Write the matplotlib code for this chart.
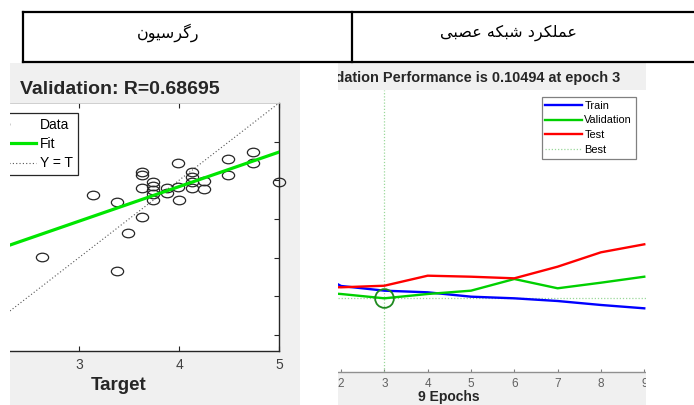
import matplotlib
matplotlib.use("Agg")
import matplotlib.pyplot as plt
import numpy as np
from matplotlib.path import Path
from matplotlib.patches import Rectangle
from matplotlib.lines import Line2D
from matplotlib.transforms import Bbox, TransformedBbox

W, H = 694, 405

# ---------------- data ----------------
# Persian headers, shaped presentation forms in visual (left-to-right) order
header_left = "\uFEE5\uFEEE\uFBFF\uFEB3\uFEAE\uFB94\uFEAD"          # رگرسیون
header_right = ("\uFBFD\uFE92\uFEBC\uFECB \uFEEA\uFB91\uFE92\uFEB7 "
                "\uFEA9\uFEAE\uFB91\uFEE0\uFEE4\uFECB")             # عملکرد شبکه عصبی

reg_title = "Validation: R=0.68695"
reg_xlabel = "Target"
reg_xticks = [3, 4, 5]
reg_yticks = [2.0, 2.5, 3.0, 3.5, 4.0, 4.5]
reg_target = [3.14, 3.38, 3.63, 3.63, 3.63, 3.74, 3.74, 3.74, 3.74, 3.74,
              3.88, 3.88, 3.99, 3.99, 4.00, 4.13, 4.13, 4.13, 4.13, 4.25,
              4.25, 4.49, 4.49, 4.74, 4.74, 5.00, 3.63, 3.49, 2.63, 3.38]
reg_output = [3.81, 3.72, 4.11, 4.07, 3.90, 3.98, 3.93, 3.87, 3.82, 3.75,
              3.90, 3.84, 4.22, 3.91, 3.75, 4.11, 4.04, 3.98, 3.90, 3.99,
              3.89, 4.28, 4.07, 4.37, 4.22, 3.98, 3.53, 3.32, 3.01, 2.83]
fit_slope = 0.447
fit_intercept = 2.13
reg_legend = ["Data", "Fit", "Y = T"]

perf_title = "Best Validation Performance is 0.10494 at epoch 3"
perf_xlabel = "9 Epochs"
epochs = [1, 2, 3, 4, 5, 6, 7, 8, 9]
train_perf = [0.25, 0.1419, 0.1265, 0.1215, 0.1092, 0.1049, 0.0982, 0.0891, 0.0821]
val_perf = [0.125, 0.1166, 0.10494, 0.1166, 0.1265, 0.1683, 0.1341, 0.1538, 0.1781]
test_perf = [0.14, 0.1374, 0.1428, 0.1826, 0.1781, 0.1712, 0.2277, 0.3238, 0.3938]
best_epoch = 3
best_perf = 0.10494
perf_legend = ["Train", "Validation", "Test", "Best"]
perf_xticks = [2, 3, 4, 5, 6, 7, 8, 9]


def box(x0, y0, x1, y1):
    return [x0 / W, 1 - y1 / H, (x1 - x0) / W, (y1 - y0) / H]


def fxy(x, y):
    return x / W, 1 - y / H


fig = plt.figure(figsize=(W / 100, H / 100), dpi=100)
fig.patch.set_facecolor("white")
SANS = ["Liberation Sans", "DejaVu Sans"]
GRAYBG = "#f0f0f0"
DARK = "#262626"

# gray image backgrounds
for x0, x1 in [(10, 300), (338, 646)]:
    fig.add_artist(Rectangle((x0 / W, 0), (x1 - x0) / W, 1 - 63 / H,
                             transform=fig.transFigure, facecolor=GRAYBG,
                             edgecolor="none", zorder=-1))

# ---------------- regression plot ----------------
axL = fig.add_axes(box(10, 103, 279, 351))
axL.set_facecolor("white")
axL.set_xlim(2.31, 5.0)
axL.set_ylim(5 - 248 / 77.3, 5.0)

ell = Path.unit_circle()
ell = Path(ell.vertices * np.array([1.0, 0.7]), ell.codes)
axL.plot(reg_target, reg_output, linestyle="none", marker=ell, ms=8.8,
         mfc="none", mec=DARK, mew=0.9, clip_on=False, zorder=3,
         label=reg_legend[0])
xs = np.array(axL.get_xlim())
axL.plot(xs, fit_slope * xs + fit_intercept, color="#00e600", lw=2.3,
         zorder=4, label=reg_legend[1])
axL.plot(xs, xs, linestyle=(0, (1, 2)), color="#555555", lw=0.8, zorder=2,
         label=reg_legend[2])

axL.set_xticks(reg_xticks)
axL.set_xticklabels([str(v) for v in reg_xticks])
axL.set_yticks(reg_yticks)
axL.tick_params(axis="both", direction="in", length=3.5, width=0.8,
                color=DARK, left=False, right=True, top=True, bottom=True,
                labelleft=False, labelright=False)
axL.tick_params(axis="x", labelsize=10, labelcolor="#404040", pad=5)
for lab in axL.get_xticklabels():
    lab.set_family(SANS)
axL.spines["left"].set_visible(False)
axL.spines["top"].set_color("#c8c8c8")
axL.spines["top"].set_linewidth(0.6)
axL.spines["bottom"].set_color(DARK)
axL.spines["right"].set_color(DARK)
axL.spines["bottom"].set_linewidth(1.0)
axL.spines["right"].set_linewidth(1.0)

legL = axL.legend(loc="upper right", bbox_to_anchor=fxy(78, 113),
                  bbox_transform=fig.transFigure, prop={"family": SANS, "size": 10},
                  handlelength=4.8, handletextpad=0.3, labelspacing=0.38,
                  borderpad=0.35, borderaxespad=0, numpoints=1, fancybox=False,
                  framealpha=1, edgecolor=DARK)
legL.get_frame().set_linewidth(0.9)

fig.text(*fxy(120, 89), reg_title, ha="center", va="center",
         fontsize=14, fontweight="bold", family=SANS, color=DARK)
fig.text(*fxy(119, 386), reg_xlabel, ha="center", va="center",
         fontsize=13.5, fontweight="bold", family=SANS, color=DARK)

# ---------------- performance plot ----------------
axR = fig.add_axes(box(338, 90, 646, 372))
axR.set_facecolor("white")
axR.set_yscale("log")
axR.set_xlim(1.93, 9.04)
D = 94.0
axR.set_ylim(best_perf * 10 ** (-(372 - 298.3) / D),
             best_perf * 10 ** ((298.3 - 90) / D))
axR.plot(epochs, train_perf, color="#0000ff", lw=1.7, label=perf_legend[0], zorder=3)
axR.plot(epochs, val_perf, color="#00d000", lw=1.7, label=perf_legend[1], zorder=3)
axR.plot(epochs, test_perf, color="#ff0000", lw=1.7, label=perf_legend[2], zorder=3)
axR.axvline(best_epoch, linestyle=(0, (1, 1.5)), color="#9ad89a", lw=0.9,
            label=perf_legend[3], zorder=2)
axR.axhline(best_perf, linestyle=(0, (1, 1.5)), color="#9ad89a", lw=0.9, zorder=2)
axR.plot([best_epoch], [best_perf], marker="o", ms=13.5, mfc="none",
         mec="#1f8a1f", mew=1.3, linestyle="none", zorder=4)

axR.set_xticks(perf_xticks)
axR.set_xticklabels([str(v) for v in perf_xticks])
axR.yaxis.set_major_locator(plt.NullLocator())
axR.yaxis.set_minor_locator(plt.NullLocator())
axR.tick_params(axis="x", direction="in", length=2.5, width=0.8,
                color="#808080", labelsize=8.5, labelcolor="#606060", pad=4)
for lab in axR.get_xticklabels():
    lab.set_family(SANS)
for s in ["left", "top", "right"]:
    axR.spines[s].set_visible(False)
axR.spines["bottom"].set_color("#909090")
axR.spines["bottom"].set_linewidth(1.0)

legR = axR.legend(loc="upper right", bbox_to_anchor=fxy(636, 97),
                  bbox_transform=fig.transFigure, prop={"family": SANS, "size": 7.9},
                  handlelength=3.3, handletextpad=0.25, labelspacing=0.42,
                  borderpad=0.35, borderaxespad=0, fancybox=False,
                  framealpha=1, edgecolor="#808080")
legR.get_frame().set_linewidth(0.9)
for ln in legR.get_lines():
    ln.set_linewidth(1.7)
legR.get_lines()[3].set_linewidth(0.9)

tR = fig.text(*fxy(620, 78), perf_title, ha="right", va="center",
              fontsize=10.45, fontweight="bold", family=SANS, color=DARK)
tR.set_clip_box(TransformedBbox(Bbox([[338 / W, 0], [646 / W, 1]]), fig.transFigure))
tR.set_clip_on(True)
fig.text(*fxy(449, 389.5), perf_xlabel, ha="center", va="top",
         fontsize=10, fontweight="bold", family=SANS, color=DARK)

# white page around the cropped images
for x0, x1 in [(0, 10), (300, 338), (646, 694)]:
    fig.add_artist(Rectangle((x0 / W, 0), (x1 - x0) / W, 1 - 63.5 / H,
                             transform=fig.transFigure, facecolor="white",
                             edgecolor="none", zorder=5))

# ---------------- table header ----------------
tl = dict(color="black", lw=1.6, zorder=6, transform=fig.transFigure,
          solid_capstyle="projecting")
fig.add_artist(Line2D([23 / W, 1], [1 - 11.5 / H] * 2, **tl))
fig.add_artist(Line2D([23 / W, 1], [1 - 62 / H] * 2, **tl))
fig.add_artist(Line2D([23 / W] * 2, [1 - 11.5 / H, 1 - 62 / H], **tl))
fig.add_artist(Line2D([352 / W] * 2, [1 - 11.5 / H, 1 - 62 / H], **tl))

fig.text(*fxy(168, 33), header_left, ha="center", va="center",
         fontsize=11.5, family=["DejaVu Sans"], color="black", zorder=6)
fig.text(*fxy(508, 33), header_right, ha="center", va="center",
         fontsize=11.5, family=["DejaVu Sans"], color="black", zorder=6)

fig.savefig("out.png", dpi=100, facecolor="white")
